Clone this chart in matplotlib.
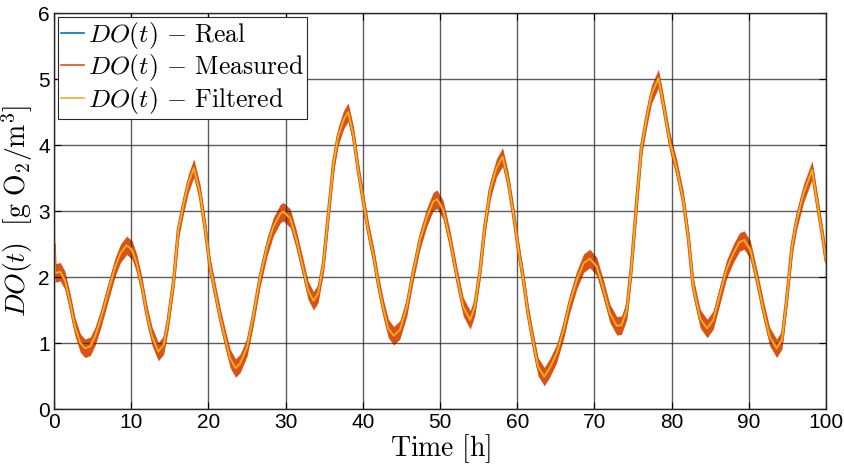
import matplotlib
matplotlib.use('Agg')
import matplotlib.pyplot as plt
import numpy as np

plt.rcParams['font.family'] = ['Liberation Sans Narrow', 'Liberation Sans', 'DejaVu Sans']
plt.rcParams['mathtext.fontset'] = 'cm'

# DO(t) (filtered curve), t in hours
time_h = [0.0, 0.13, 0.8, 1.4, 2.1, 2.7, 3.4, 4.0, 4.7, 5.3, 6.0, 6.6, 7.3, 7.9, 8.6,
          9.4, 10.1, 10.7, 11.4, 12.0, 12.7, 13.5, 14.2, 14.8, 15.5, 16.1, 16.8, 17.4,
          18.1, 18.9, 19.6, 20.2, 20.9, 21.5, 22.2, 22.8, 23.5, 24.1, 25.0, 25.8, 26.7,
          27.6, 28.4, 29.3, 29.7, 30.6, 31.4, 32.3, 32.9, 33.6, 34.2, 34.9, 35.5, 36.2,
          36.8, 37.5, 38.1, 38.8, 39.4, 40.1, 40.7, 41.4, 42.0, 42.7, 43.3, 44.0, 44.8,
          45.7, 46.5, 47.4, 48.3, 49.1, 49.6, 50.4, 51.3, 52.2, 53.0, 53.9, 54.5, 55.2,
          55.8, 56.5, 57.3, 58.1, 58.8, 59.5, 60.1, 60.8, 61.4, 62.1, 62.7, 63.5, 64.2,
          65.1, 66.0, 66.8, 67.7, 68.6, 69.4, 70.3, 71.2, 72.0, 72.9, 73.5, 74.2, 74.8,
          75.5, 76.1, 76.8, 77.4, 78.3, 78.9, 79.8, 80.7, 81.5, 82.2, 82.8, 83.7, 84.6,
          85.4, 86.3, 87.1, 88.0, 88.8, 89.4, 90.2, 91.0, 91.9, 92.7, 93.6, 94.3, 94.9,
          95.6, 96.2, 97.1, 98.2, 98.8, 99.5, 100.0]
do_filtered = [2.48, 2.06, 2.08, 1.95, 1.60, 1.25, 1.00, 0.92, 0.95, 1.10, 1.35, 1.60,
               1.90, 2.15, 2.36, 2.48, 2.41, 2.21, 1.85, 1.45, 1.10, 0.87, 0.97, 1.35,
               1.95, 2.71, 3.12, 3.42, 3.65, 3.27, 2.71, 2.16, 1.75, 1.40, 1.05, 0.77,
               0.62, 0.69, 0.94, 1.40, 2.00, 2.46, 2.76, 2.96, 2.99, 2.89, 2.56, 2.11,
               1.80, 1.64, 1.75, 2.21, 2.91, 3.72, 4.13, 4.38, 4.50, 4.13, 3.62, 3.12,
               2.71, 2.31, 1.90, 1.50, 1.22, 1.11, 1.20, 1.55, 2.06, 2.56, 2.91, 3.14,
               3.18, 3.02, 2.56, 2.00, 1.55, 1.35, 1.55, 2.11, 2.76, 3.32, 3.65, 3.82,
               3.47, 2.96, 2.46, 1.95, 1.45, 1.00, 0.64, 0.49, 0.62, 0.84, 1.20, 1.60,
               1.95, 2.21, 2.28, 2.16, 1.80, 1.45, 1.26, 1.27, 1.50, 2.16, 3.17, 3.97,
               4.43, 4.77, 5.01, 4.63, 4.03, 3.62, 3.17, 2.56, 1.85, 1.37, 1.22, 1.35,
               1.75, 2.11, 2.36, 2.53, 2.56, 2.41, 2.00, 1.50, 1.10, 0.92, 1.05, 1.65,
               2.46, 2.86, 3.27, 3.62, 3.17, 2.66, 2.26]
do_real = do_filtered
noise_amp = 0.14  # half-width of the sensor noise band

t = np.array(time_h)
filt = np.array(do_filtered)

fig = plt.figure(figsize=(8.45, 4.73), dpi=100)
ax = fig.add_axes([0.064, 0.1353, 0.9135, 0.8372])

ax.plot(t, do_real, color='#0072BD', lw=1, label=r'$DO(t)\,-\,\mathrm{Real}$')
ax.fill_between(t, filt - noise_amp, filt + noise_amp, color='#D95319', lw=0)
ax.plot(t, filt, color='#D95319', lw=2.5, label=r'$DO(t)\,-\,\mathrm{Measured}$')
ax.plot(t, filt, color='#EDB120', lw=1.3, label=r'$DO(t)\,-\,\mathrm{Filtered}$')

ax.set_xlim(0, 100)
ax.set_ylim(0, 6)
ax.set_xticks(np.arange(0, 101, 10))
ax.set_yticks(np.arange(0, 7, 1))
ax.tick_params(direction='in', length=5, top=True, right=True, labelsize=15, width=0.8,
               pad=3)
ax.grid(True, color='#262626', alpha=0.75, lw=1)
for s in ax.spines.values():
    s.set_color('#262626')
    s.set_linewidth(1)

ax.set_xlabel(r'$\mathrm{Time\ [h]}$', fontsize=20, labelpad=0)
ax.set_ylabel(r'$DO(t)\ \ [\mathrm{g\ O_2/m^3}]$', fontsize=20, labelpad=2)

leg = ax.legend(loc='upper left', fontsize=18.5, handlelength=0.9, handletextpad=0.15,
                borderaxespad=0.15, borderpad=0.12, labelspacing=0.05, fancybox=False,
                framealpha=1, edgecolor='#262626')
leg.get_frame().set_linewidth(0.8)
for line in leg.get_lines():
    line.set_linewidth(1.2)

fig.savefig('out.png', dpi=100)
